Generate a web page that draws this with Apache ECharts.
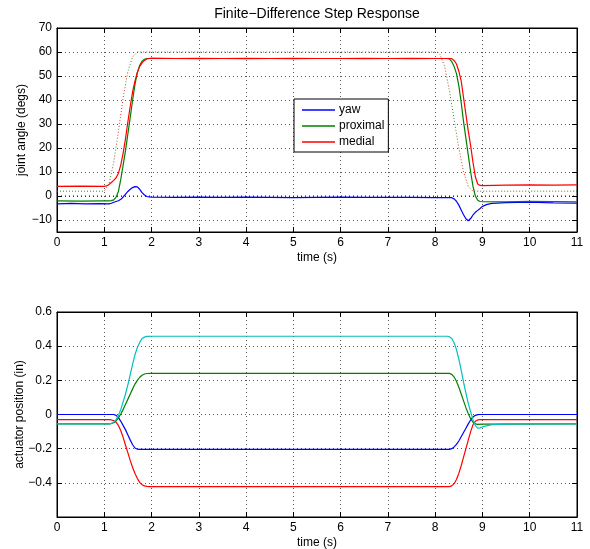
<!DOCTYPE html>
<html>
<head>
<meta charset="utf-8">
<script src="https://cdn.jsdelivr.net/npm/echarts@6/dist/echarts.min.js"></script>
<style>html,body{margin:0;padding:0;background:#fff;}#chart{width:590px;height:549px;}</style>
</head>
<body>
<div id="chart"></div>
<script>
// ---------- Data ----------
const titleText = 'Finite\u2212Difference Step Response';
const xTicks = [0,1,2,3,4,5,6,7,8,9,10,11];
const topYTicks = [-10,0,10,20,30,40,50,60,70];
const botYTicks = [-0.6,-0.4,-0.2,0,0.2,0.4,0.6];
const legendNames = ['yaw','proximal','medial'];

// Top: joint angles (degs)
const yawT = [0,0.3,0.6,0.9,1.1,1.15,1.2,1.25,1.3,1.35,1.4,1.45,1.5,1.55,1.6,1.65,1.7,1.75,1.8,1.85,1.9,1.95,2.0,2.5,3,3.5,4,4.5,5,5.5,6,6.5,7,7.5,8,8.35,8.4,8.45,8.5,8.55,8.6,8.65,8.7,8.75,8.8,8.85,8.9,8.95,9.0,9.1,9.2,9.5,10,10.5,11];
const yawV = [-3.3,-3.1,-3.3,-3.2,-3.3,-3.0,-2.6,-2.3,-2.0,-1.4,-0.4,0.8,1.9,2.8,3.5,3.9,3.8,2.8,1.4,0.4,-0.2,-0.4,-0.5,-0.6,-0.5,-0.6,-0.5,-0.6,-0.7,-0.6,-0.5,-0.6,-0.6,-0.6,-0.7,-0.7,-1.2,-2.2,-3.8,-5.8,-7.8,-9.5,-10.3,-9.4,-7.9,-6.8,-6.0,-5.2,-4.3,-3.5,-3.1,-2.8,-2.6,-2.9,-3.0];

const proxT = [0,0.5,1.0,1.1,1.15,1.2,1.25,1.3,1.35,1.4,1.45,1.5,1.55,1.6,1.65,1.7,1.75,1.8,1.85,1.9,2.0,2.5,3,3.5,4,4.5,5,5.5,6,6.5,7,7.5,8,8.25,8.3,8.35,8.4,8.45,8.5,8.55,8.6,8.65,8.7,8.75,8.8,8.85,8.9,8.95,9.0,9.5,10,10.5,11];
const proxV = [-2.0,-2.1,-2.0,-2.0,-1.9,-1.6,-0.5,2,7,13,19,26,33,40,46.5,51.5,54.5,56.2,57,57.3,57.4,57.3,57.4,57.3,57.2,57.3,57.4,57.3,57.3,57.2,57.3,57.4,57.3,57.3,57.1,56,54,51,46,39,31,24,17,10,4,0,-1.8,-2.3,-2.4,-2.4,-2.2,-2.3,-2.4];

const medT = [0,0.5,1.0,1.05,1.1,1.15,1.2,1.25,1.3,1.35,1.4,1.45,1.5,1.55,1.6,1.65,1.7,1.75,1.8,1.85,1.9,1.95,2.0,2.5,3,3.5,4,4.5,5,5.5,6,6.5,7,7.5,8,8.3,8.35,8.4,8.45,8.5,8.55,8.6,8.65,8.7,8.75,8.8,8.85,8.9,8.95,9.0,9.5,10,10.5,11];
const medV = [4.0,4.1,4.0,4.2,4.8,5.6,6.5,7.6,9.5,13,18,24,31,37.5,43.5,48,51.5,54,55.5,56.5,57.1,57.3,57.4,57.3,57.2,57.3,57.4,57.3,57.2,57.3,57.3,57.4,57.3,57.2,57.3,57.3,57.2,56.5,55,52,48,41,34,27,21,14,8,5,4.4,4.3,4.5,4.6,4.5,4.6];

// Dotted reference trajectories
const refT = [0,1.0,1.1,1.2,1.3,1.4,1.5,1.6,1.7,8.05,8.1,8.2,8.3,8.4,8.5,8.6,8.7,8.8,11];
const refV = [2,2,5,14,27,41,52,58,60,60,59,54,44,32,20,10,4,2,2];
const yawRefT = [0,11];
const yawRefV = [0,0];

// Bottom: actuator positions (in)
const act1T = [0,1.2,1.25,1.3,1.35,1.4,1.45,1.5,1.55,1.6,1.65,1.7,1.75,8.3,8.35,8.4,8.45,8.5,8.55,8.6,8.65,8.7,8.75,8.8,8.85,8.9,8.95,11];
const act1V = [0,0,-0.005,-0.018,-0.04,-0.065,-0.09,-0.12,-0.15,-0.177,-0.196,-0.203,-0.204,-0.204,-0.2,-0.19,-0.175,-0.155,-0.13,-0.105,-0.08,-0.055,-0.032,-0.015,-0.005,-0.001,0,0];

const act2T = [0,1.1,1.15,1.2,1.25,1.3,1.35,1.4,1.45,1.5,1.55,1.6,1.65,1.7,1.75,1.8,1.85,1.9,2.0,8.3,8.35,8.4,8.45,8.5,8.55,8.6,8.65,8.7,8.75,8.8,8.85,8.9,9.0,11];
const act2V = [-0.055,-0.055,-0.053,-0.048,-0.037,-0.02,0.003,0.03,0.06,0.09,0.12,0.15,0.178,0.2,0.218,0.23,0.237,0.24,0.241,0.241,0.235,0.22,0.195,0.16,0.12,0.08,0.04,0.005,-0.025,-0.045,-0.055,-0.058,-0.056,-0.055];

const act3T = [0,1.1,1.15,1.2,1.25,1.3,1.35,1.4,1.45,1.5,1.55,1.6,1.65,1.7,1.75,1.8,1.85,1.9,1.95,8.3,8.35,8.4,8.45,8.5,8.55,8.6,8.65,8.7,8.75,8.8,8.85,8.9,8.95,11];
const act3V = [-0.03,-0.03,-0.032,-0.036,-0.045,-0.065,-0.095,-0.135,-0.18,-0.225,-0.27,-0.31,-0.345,-0.375,-0.397,-0.411,-0.418,-0.421,-0.422,-0.422,-0.418,-0.405,-0.38,-0.345,-0.3,-0.25,-0.2,-0.15,-0.1,-0.06,-0.04,-0.032,-0.03,-0.03];

const act4T = [0,1.1,1.15,1.2,1.25,1.3,1.35,1.4,1.45,1.5,1.55,1.6,1.65,1.7,1.75,1.8,1.85,1.9,2.0,8.25,8.3,8.35,8.4,8.45,8.5,8.55,8.6,8.65,8.7,8.75,8.8,8.85,8.9,8.95,9.0,9.1,9.2,9.4,10,11];
const act4V = [-0.055,-0.055,-0.052,-0.045,-0.03,-0.005,0.03,0.075,0.12,0.175,0.235,0.295,0.35,0.392,0.422,0.445,0.453,0.457,0.458,0.458,0.455,0.445,0.42,0.38,0.325,0.26,0.19,0.125,0.065,0.015,-0.03,-0.065,-0.08,-0.078,-0.072,-0.065,-0.06,-0.056,-0.055,-0.055];

// ---------- Chart ----------
const FONT = '"Liberation Sans", Arial, Helvetica, sans-serif';
const zip = (t, v) => t.map((x, i) => [x, v[i]]);
const minus = s => String(s).replace('-', '\u2212');

const LW = 1.2;
const gridStyle = {show: true, lineStyle: {color: '#555', width: 1, type: [1, 3]}};
const tickStyle = {inside: true, length: 5, lineStyle: {color: '#000', width: 1}};
const lineAxis = {show: true, onZero: false, lineStyle: {color: '#000', width: 1}};
const labelStyle = {color: '#000', fontSize: 12, fontFamily: FONT};
const nameStyle = {color: '#000', fontSize: 12, fontFamily: FONT};

function xAx(gi) {
  return [
    {type: 'value', gridIndex: gi, min: 0, max: 11, interval: 1, position: 'bottom',
     axisLine: lineAxis, axisTick: tickStyle, splitLine: gridStyle,
     axisLabel: Object.assign({margin: 5}, labelStyle),
     name: 'time (s)', nameLocation: 'middle', nameGap: 20, nameTextStyle: nameStyle},
    {type: 'value', gridIndex: gi, min: 0, max: 11, interval: 1, position: 'top',
     axisLine: lineAxis, axisTick: tickStyle, splitLine: {show: false}, axisLabel: {show: false}}
  ];
}

const option = {
  animation: false,
  backgroundColor: '#fff',
  textStyle: {fontFamily: FONT},
  graphic: [{type: 'text', x: 317, y: 14,
    style: {text: titleText, textAlign: 'center', textVerticalAlign: 'middle',
            font: '14px ' + FONT, fill: '#000'}}],
  grid: [
    {left: 57, top: 28, width: 520, height: 204, show: true, borderColor: '#000', borderWidth: 1, backgroundColor: '#fff', outerBoundsMode: 'none'},
    {left: 57, top: 312, width: 520, height: 205, show: true, borderColor: '#000', borderWidth: 1, backgroundColor: '#fff', outerBoundsMode: 'none'}
  ],
  legend: {
    data: legendNames, left: 294, top: 99, orient: 'vertical',
    backgroundColor: '#fff', borderColor: '#000', borderWidth: 1, borderRadius: 0,
    padding: [4, 4, 3, 8], itemWidth: 33, itemHeight: 1.5, itemGap: 2, icon: 'rect',
    textStyle: {color: '#000', fontSize: 12, fontFamily: FONT, lineHeight: 14, padding: [0, 0, 0, -1]}
  },
  xAxis: xAx(0).concat(xAx(1)),
  yAxis: [
    {type: 'value', gridIndex: 0, min: -15, max: 70, position: 'left',
     axisLine: lineAxis,
     axisTick: Object.assign({customValues: topYTicks}, tickStyle),
     axisLabel: Object.assign({customValues: topYTicks, margin: 5, formatter: v => minus(v)}, labelStyle),
     splitLine: gridStyle,
     name: 'joint angle (degs)', nameLocation: 'middle', nameGap: 29, nameRotate: 90,
     nameMoveOverlap: false, nameTextStyle: nameStyle},
    {type: 'value', gridIndex: 0, min: -15, max: 70, position: 'right',
     axisLine: lineAxis, axisTick: Object.assign({customValues: topYTicks}, tickStyle),
     axisLabel: {show: false}, splitLine: {show: false}},
    {type: 'value', gridIndex: 1, min: -0.6, max: 0.6, interval: 0.2, position: 'left',
     axisLine: lineAxis, axisTick: tickStyle,
     axisLabel: Object.assign({margin: 5, formatter: v => {
       if (Math.abs(v + 0.6) < 1e-9) return '';
       if (Math.abs(v) < 1e-9) return '0';
       return minus((+v).toFixed(1));
     }}, labelStyle),
     splitLine: gridStyle,
     name: 'actuator position (in)', nameLocation: 'middle', nameGap: 31, nameRotate: 90,
     nameMoveOverlap: false, nameTextStyle: nameStyle},
    {type: 'value', gridIndex: 1, min: -0.6, max: 0.6, interval: 0.2, position: 'right',
     axisLine: lineAxis, axisTick: tickStyle, axisLabel: {show: false}, splitLine: {show: false}}
  ],
  series: [
    // dotted references (top)
    {name: 'yaw ref', type: 'line', xAxisIndex: 0, yAxisIndex: 0, data: zip(yawRefT, yawRefV),
     showSymbol: false, lineStyle: {color: '#0000ff', width: 1, type: [1, 3]}, silent: true},
    {name: 'proximal ref', type: 'line', xAxisIndex: 0, yAxisIndex: 0, data: zip(refT, refV),
     showSymbol: false, lineStyle: {color: '#008000', width: 1, type: [1, 5], dashOffset: 3, opacity: 0.8}, silent: true},
    {name: 'medial ref', type: 'line', xAxisIndex: 0, yAxisIndex: 0, data: zip(refT, refV),
     showSymbol: false, lineStyle: {color: '#ff0000', width: 1, type: [1, 5], opacity: 0.9}, silent: true},
    // measured (top)
    {name: 'yaw', type: 'line', xAxisIndex: 0, yAxisIndex: 0, data: zip(yawT, yawV),
     showSymbol: false, color: '#0000ff', lineStyle: {color: '#0000ff', width: LW}},
    {name: 'proximal', type: 'line', xAxisIndex: 0, yAxisIndex: 0, data: zip(proxT, proxV),
     showSymbol: false, color: '#008000', lineStyle: {color: '#008000', width: LW}},
    {name: 'medial', type: 'line', xAxisIndex: 0, yAxisIndex: 0, data: zip(medT, medV),
     showSymbol: false, color: '#ff0000', lineStyle: {color: '#ff0000', width: LW}},
    // bottom actuators
    {name: 'act1', type: 'line', xAxisIndex: 2, yAxisIndex: 2, data: zip(act1T, act1V),
     showSymbol: false, lineStyle: {color: '#0000ff', width: LW}},
    {name: 'act2', type: 'line', xAxisIndex: 2, yAxisIndex: 2, data: zip(act2T, act2V),
     showSymbol: false, lineStyle: {color: '#008000', width: LW}},
    {name: 'act3', type: 'line', xAxisIndex: 2, yAxisIndex: 2, data: zip(act3T, act3V),
     showSymbol: false, lineStyle: {color: '#ff0000', width: LW}},
    {name: 'act4', type: 'line', xAxisIndex: 2, yAxisIndex: 2, data: zip(act4T, act4V),
     showSymbol: false, lineStyle: {color: '#00bfbf', width: LW}}
  ]
};

const chart = echarts.init(document.getElementById('chart'), null, {renderer: 'canvas'});
chart.setOption(option);
</script>
</body>
</html>
